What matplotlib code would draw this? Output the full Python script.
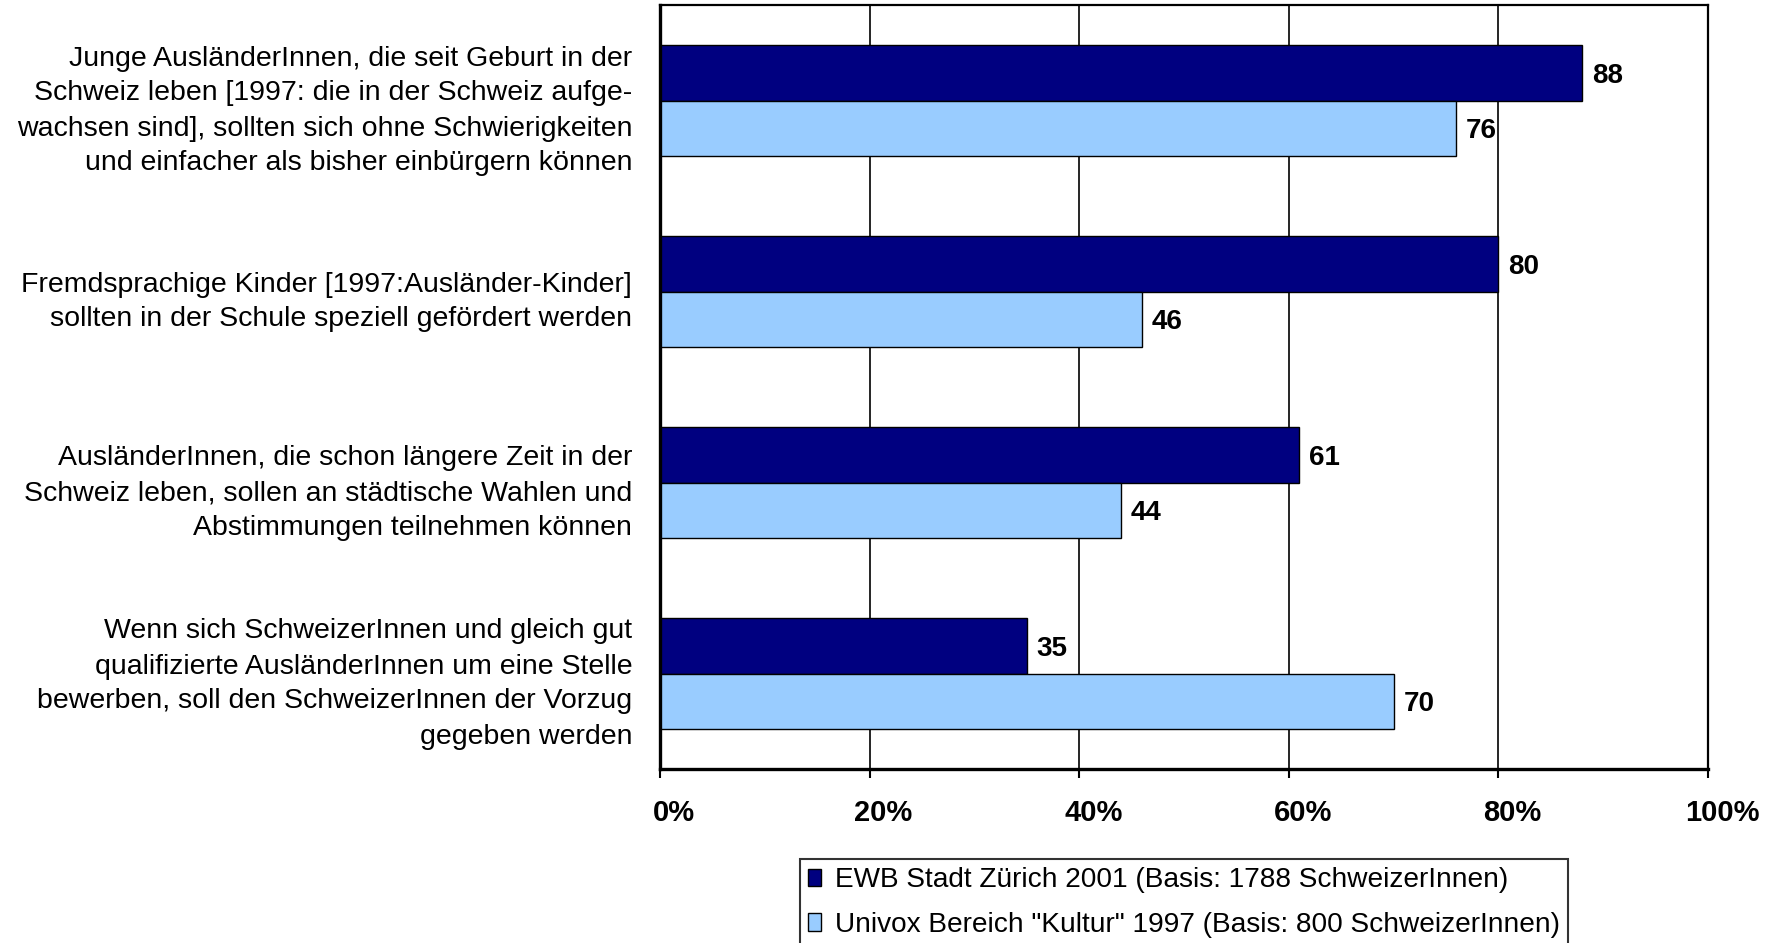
import matplotlib
matplotlib.use("Agg")
import matplotlib.pyplot as plt
import matplotlib.transforms as mtransforms
import numpy as np

plt.rcParams['font.family'] = ['Liberation Sans', 'DejaVu Sans']

categories = [
    "Junge AusländerInnen, die seit Geburt in der\nSchweiz leben [1997: die in der Schweiz aufge-\nwachsen sind], sollten sich ohne Schwierigkeiten\nund einfacher als bisher einbürgern können",
    "Fremdsprachige Kinder [1997:Ausländer-Kinder]\nsollten in der Schule speziell gefördert werden",
    "AusländerInnen, die schon längere Zeit in der\nSchweiz leben, sollen an städtische Wahlen und\nAbstimmungen teilnehmen können",
    "Wenn sich SchweizerInnen und gleich gut\nqualifizierte AusländerInnen um eine Stelle\nbewerben, soll den SchweizerInnen der Vorzug\ngegeben werden",
]
series_names = [
    "EWB Stadt Zürich 2001 (Basis: 1788 SchweizerInnen)",
    'Univox Bereich "Kultur" 1997 (Basis: 800 SchweizerInnen)',
]
ewb_2001 = [88, 80, 61, 35]
univox_1997 = [76, 46, 44, 70]
x_ticks = [0, 20, 40, 60, 80, 100]
x_labels = ["0%", "20%", "40%", "60%", "80%", "100%"]

colors = ["#000080", "#99CCFF"]

W, H = 1776, 943
fig = plt.figure(figsize=(W / 100, H / 100), dpi=100)
ax = fig.add_axes([660 / W, 1 - 769 / H, (1708 - 660) / W, (769 - 5) / H])

y = np.arange(len(categories))
h = 0.29
bars1 = ax.barh(y - h / 2, ewb_2001, height=h, color=colors[0], edgecolor="black",
                linewidth=1.0, label=series_names[0], zorder=3)
bars2 = ax.barh(y + h / 2, univox_1997, height=h, color=colors[1], edgecolor="black",
                linewidth=1.0, label=series_names[1], zorder=3)

for bars, vals in ((bars1, ewb_2001), (bars2, univox_1997)):
    for b, v in zip(bars, vals):
        ax.annotate(str(v), (b.get_width(), b.get_y() + b.get_height() / 2),
                    xytext=(7, -2), textcoords="offset points", ha="left", va="center",
                    fontsize=20, fontweight="bold", color="black", zorder=4)

ax.set_xlim(0, 100)
ax.set_ylim(len(categories) - 0.5, -0.5)
ax.set_xticks(x_ticks)
ax.set_xticklabels(x_labels, fontsize=21, fontweight="bold")
ax.tick_params(axis="x", direction="out", length=6.5, width=1.5, pad=15, color="black")
shift = mtransforms.ScaledTranslation(14 / 100, 0, fig.dpi_scale_trans)
for lbl in ax.get_xticklabels():
    lbl.set_transform(lbl.get_transform() + shift)

ax.set_yticks(y)
ax.set_yticklabels(categories, fontsize=20.5, linespacing=1.45, multialignment="right")
ax.tick_params(axis="y", length=0, pad=20)
yshift = mtransforms.ScaledTranslation(0, -3 / 100, fig.dpi_scale_trans)
for lbl in ax.get_yticklabels():
    lbl.set_transform(lbl.get_transform() + yshift)

ax.xaxis.grid(True, color="black", linewidth=1.2, zorder=0)
ax.set_axisbelow(True)

ax.spines["left"].set_linewidth(2.4)
ax.spines["bottom"].set_linewidth(2.4)
ax.spines["top"].set_linewidth(1.6)
ax.spines["right"].set_linewidth(1.6)
for s in ax.spines.values():
    s.set_color("black")
    s.set_zorder(5)

leg = fig.legend(handles=[bars1, bars2], labels=series_names,
                 loc="upper left", bbox_to_anchor=(800 / W, 1 - 859 / H),
                 fontsize=20.2, frameon=True, fancybox=False, shadow=False,
                 handlelength=0.45, handleheight=0.6, handletextpad=0.5,
                 borderpad=0.3, labelspacing=0.65, borderaxespad=0)
leg.get_frame().set_edgecolor("black")
leg.get_frame().set_linewidth(1.5)

fig.savefig("out.png", dpi=100)
